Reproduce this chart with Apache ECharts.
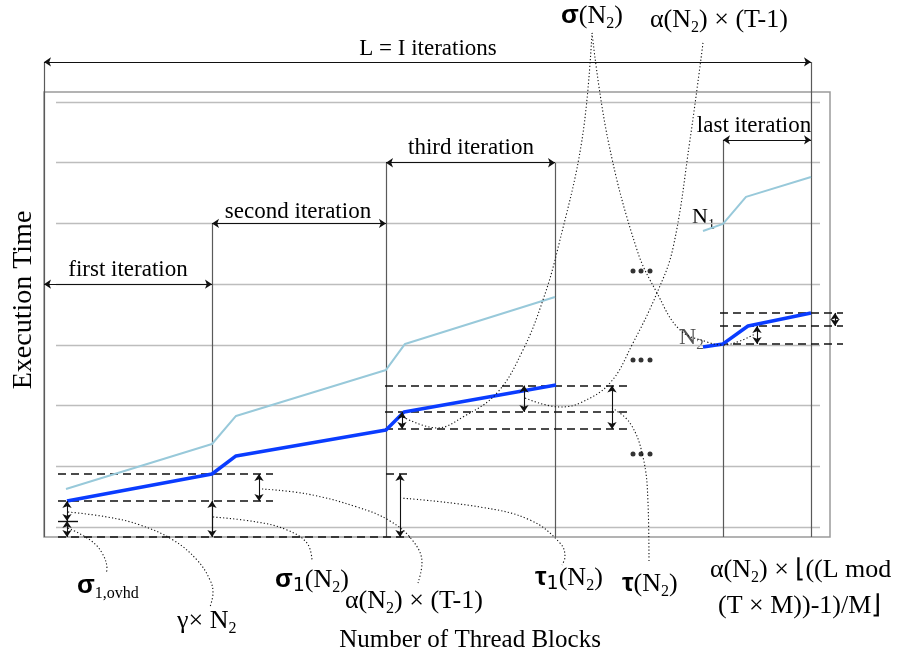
<!DOCTYPE html>
<html><head><meta charset="utf-8">
<script src="https://cdn.jsdelivr.net/npm/echarts@6/dist/echarts.min.js"></script>
<style>html,body{margin:0;padding:0;background:#fff}#c{width:902px;height:658px}</style>
</head><body><div id="c"></div>
<script>
// ---------- data (x: thread-block position, y: execution time in grid-row units) ----------
const gridRows = [0, 1, 2, 3, 4, 5, 6, 7];
const gridSpan = [12, 776];
const axisBottom = -0.165;
const boundaryX = [0, 168, 342, 511, 679, 767];
const boundaryTop = [7.661, 5, 6, 6, 6.376, 7.661];

// light blue series (N1)
const n1X_a = [22, 168, 192, 342, 361, 511];
const n1Y_a = [0.626, 1.367, 1.829, 2.587, 3.015, 3.789];
const n1X_b = [659, 679, 702, 767];
const n1Y_b = [4.876, 4.992, 5.437, 5.766];
// dark blue series (N2)
const n2X_a = [23, 168, 192, 342, 360, 512];
const n2Y_a = [0.428, 0.873, 1.170, 1.598, 1.895, 2.339];
const n2X_b = [659, 679, 704, 767];
const n2Y_b = [2.965, 3.015, 3.311, 3.526];

// iteration span arrows
const iterY = [7.661, 4, 5, 6, 6.376];
const iterX1 = [0, 0, 168, 342, 679];
const iterX2 = [767, 168, 342, 511, 767];
const iterLabels = ['L = I iterations', 'first iteration', 'second iteration', 'third iteration', 'last iteration'];

// dashed reference levels
const dashY = [0.873, 0.428, -0.165, 2.33, 1.895, 1.615, 3.526, 3.311, 3.015, 0.873];
const dashX1 = [14, 14, 14, 341, 341, 341, 676, 676, 676, 342];
const dashX2 = [229, 229, 366, 588, 588, 588, 799, 799, 799, 366];

// vertical double arrows
const vArrowX = [23, 23, 168, 215, 356, 358, 480, 568, 713, 791];
const vArrowY1 = [0.428, 0.099, 0.428, 0.873, 0.873, 1.895, 2.33, 2.33, 3.311, 3.526];
const vArrowY2 = [0.099, -0.165, -0.165, 0.428, -0.165, 1.615, 1.895, 1.615, 3.015, 3.311];
const tickY = 0.099, tickX = [14, 34];

// dotted leader curves
const leaders = {
  gamma:   {x: [24, 63, 96, 129, 153, 166, 169, 166], y: [0.247, 0.165, 0.033, -0.214, -0.544, -0.873, -1.087, -1.318]},
  ovhd:    {x: [24, 46, 58, 63, 62], y: [-0.016, -0.214, -0.428, -0.708, -0.741]},
  sigma1:  {x: [169, 213, 243, 263, 268], y: [0.165, 0.082, -0.049, -0.264, -0.544]},
  alphaB:  {x: [218, 263, 313, 346, 369, 378, 374], y: [0.626, 0.544, 0.329, 0.099, -0.231, -0.593, -0.923]},
  tau1:    {x: [356, 436, 486, 516, 521, 518], y: [0.478, 0.329, 0.115, -0.264, -0.494, -0.626]},
  tau:     {x: [568, 586, 599, 604, 605], y: [1.960, 1.713, 1.153, 0.395, -0.593]},
  sigmaL:  {x: [359, 393, 419, 453, 479, 499, 514, 538, 548], y: [1.812, 1.631, 1.812, 2.208, 2.916, 3.740, 4.596, 6.376, 8.138]},
  sigmaR:  {x: [548, 564, 593, 613, 636, 663, 679, 696, 711], y: [8.138, 6.376, 4.563, 3.855, 3.245, 3.048, 2.998, 3.064, 3.180]},
  alphaT:  {x: [659, 646, 629, 613, 589, 566, 536, 516, 481], y: [7.974, 6.376, 4.596, 3.855, 3.031, 2.372, 2.043, 1.977, 2.125]},
  floor:   {x: [792, 803, 809, 812], y: [3.377, 2.702, 1.878, -0.016]}
};

// ellipsis dots
const dotsX = [589, 597, 606];
const dotsRowY = [4.217, 2.751, 1.203];

// texts
const axisTitles = ['Execution Time', 'Number of Thread Blocks'];
const curveLabels = ['N', 'N'];

// ---------- build ----------
const zip = (xs, ys) => xs.map((x, i) => [x, ys[i]]);
const seg = (x1, y1, x2, y2) => ({coords: [[x1, y1], [x2, y2]]});
const base = {coordinateSystem: 'cartesian2d', xAxisIndex: 0, yAxisIndex: 0, clip: false, silent: true, animation: false};

const series = [];
series.push(Object.assign({type: 'lines', z: 1, lineStyle: {color: '#bdbdbd', width: 1.3, opacity: 1},
  data: gridRows.map(r => seg(gridSpan[0], r, gridSpan[1], r))}, base));
series.push(Object.assign({type: 'lines', z: 2, lineStyle: {color: '#5a5a5a', width: 1.2, opacity: 1},
  data: boundaryX.map((x, i) => seg(x, axisBottom, x, boundaryTop[i]))}, base));
series.push(Object.assign({type: 'lines', z: 3, lineStyle: {color: '#111', width: 1.6, type: [8, 5], opacity: 1},
  data: dashY.map((y, i) => seg(dashX1[i], y, dashX2[i], y))}, base));
series.push(Object.assign({type: 'lines', z: 3, lineStyle: {color: '#111', width: 1.4, opacity: 1},
  data: [seg(tickX[0], tickY, tickX[1], tickY)]}, base));
series.push(Object.assign({type: 'lines', z: 5, symbol: ['arrow', 'arrow'], symbolSize: 7,
  lineStyle: {color: '#111', width: 1.1, opacity: 1},
  data: iterY.map((y, i) => seg(iterX1[i], y, iterX2[i], y))
    .concat(vArrowX.map((x, i) => seg(x, vArrowY1[i], x, vArrowY2[i])))}, base));

series.push(Object.assign({type: 'line', z: 4, symbol: 'none', lineStyle: {color: '#98c9da', width: 2}, data: zip(n1X_a, n1Y_a)}, base));
series.push(Object.assign({type: 'line', z: 4, symbol: 'none', lineStyle: {color: '#98c9da', width: 2}, data: zip(n1X_b, n1Y_b)}, base));
series.push(Object.assign({type: 'line', z: 4, symbol: 'none', lineStyle: {color: '#0a3cff', width: 3.5}, data: zip(n2X_a, n2Y_a)}, base));
series.push(Object.assign({type: 'line', z: 4, symbol: 'none', lineStyle: {color: '#0a3cff', width: 3.5}, data: zip(n2X_b, n2Y_b)}, base));

Object.keys(leaders).forEach(k => {
  series.push(Object.assign({type: 'line', z: 6, symbol: 'none', smooth: 0.4,
    lineStyle: {color: '#111', width: 1.1, type: [1.2, 2.2]}, data: zip(leaders[k].x, leaders[k].y)}, base));
});
dotsRowY.forEach(y => {
  series.push(Object.assign({type: 'scatter', z: 6, symbol: 'circle', symbolSize: 5,
    itemStyle: {color: '#000'}, data: dotsX.map(x => [x, y])}, base));
});

const SERIF = 'Liberation Serif';
const rich = {
  g: {fontFamily: 'Liberation Sans', fontWeight: 'bold', fontSize: 26, lineHeight: 32, fill: '#000'},
  n: {fontFamily: 'DejaVu Sans', fontSize: 19, lineHeight: 26, verticalAlign: 'bottom', fill: '#000'},
  r: {fontFamily: SERIF, fontSize: 26, lineHeight: 32, fill: '#000'},
  s: {fontFamily: SERIF, fontSize: 16, lineHeight: 24, verticalAlign: 'bottom', fill: '#000'},
  rg: {fontFamily: SERIF, fontSize: 24, lineHeight: 30, fill: '#555'},
  sg: {fontFamily: SERIF, fontSize: 15, lineHeight: 22, verticalAlign: 'bottom', fill: '#555'},
  rn: {fontFamily: SERIF, fontSize: 22, lineHeight: 30, fill: '#000'},
  sn: {fontFamily: SERIF, fontSize: 14, lineHeight: 22, verticalAlign: 'bottom', fill: '#000'}
};
function T(x, y, text, opt) {
  return {type: 'text', x: x, y: y, silent: true,
    style: Object.assign({text: text, rich: rich, textAlign: 'left', textVerticalAlign: 'middle',
      font: '24px "Liberation Serif"', fill: '#000'}, (opt || {}))};
}
const graphic = [
  T(428, 49, iterLabels[0], {textAlign: 'center', font: '23px "Liberation Serif"'}),
  T(128, 270, iterLabels[1], {textAlign: 'center', font: '23px "Liberation Serif"'}),
  T(298, 212, iterLabels[2], {textAlign: 'center', font: '23px "Liberation Serif"'}),
  T(471, 148, iterLabels[3], {textAlign: 'center', font: '23px "Liberation Serif"'}),
  T(754, 126, iterLabels[4], {textAlign: 'center', font: '23px "Liberation Serif"'}),
  T(470, 640, axisTitles[1], {textAlign: 'center', font: '25px "Liberation Serif"'}),
  {type: 'text', x: 24, y: 300, rotation: Math.PI / 2, silent: true,
    style: {text: axisTitles[0], font: '28px "Liberation Serif"', fill: '#000', textAlign: 'center', textVerticalAlign: 'middle'}},
  T(692, 217, '{rn|' + curveLabels[0] + '}{sn|1}'),
  T(679, 338, '{rg|' + curveLabels[1] + '}{sg|2}'),
  T(561, 16, '{g|σ}{r|(N}{s|2}{r|)}'),
  T(650, 20, '{r|α(N}{s|2}{r|) × (T-1)}'),
  T(77, 586, '{g|σ}{s|1,ovhd}'),
  T(177, 621, '{r|γ× N}{s|2}'),
  T(275, 580, '{g|σ}{n|1}{r|(N}{s|2}{r|)}'),
  T(345, 601, '{r|α(N}{s|2}{r|) × (T-1)}'),
  T(535, 578, '{g|τ}{n|1}{r|(N}{s|2}{r|)}'),
  T(622, 584, '{g|τ}{r|(N}{s|2}{r|)}'),
  T(710, 570, '{r|α(N}{s|2}{r|) × ⌊((L mod}'),
  T(718, 606, '{r|(T × M))-1)/M⌋}')
];

const chart = echarts.init(document.getElementById('c'), null, {renderer: 'canvas'});
chart.setOption({
  animation: false,
  backgroundColor: '#fff',
  grid: {left: 44, top: 92, width: 786, height: 445, show: true, borderColor: '#9a9a9a', borderWidth: 1.5},
  xAxis: {type: 'value', min: 0, max: 786, show: false},
  yAxis: {type: 'value', min: -0.165, max: 7.165, show: false},
  series: series,
  graphic: graphic
});
</script></body></html>
